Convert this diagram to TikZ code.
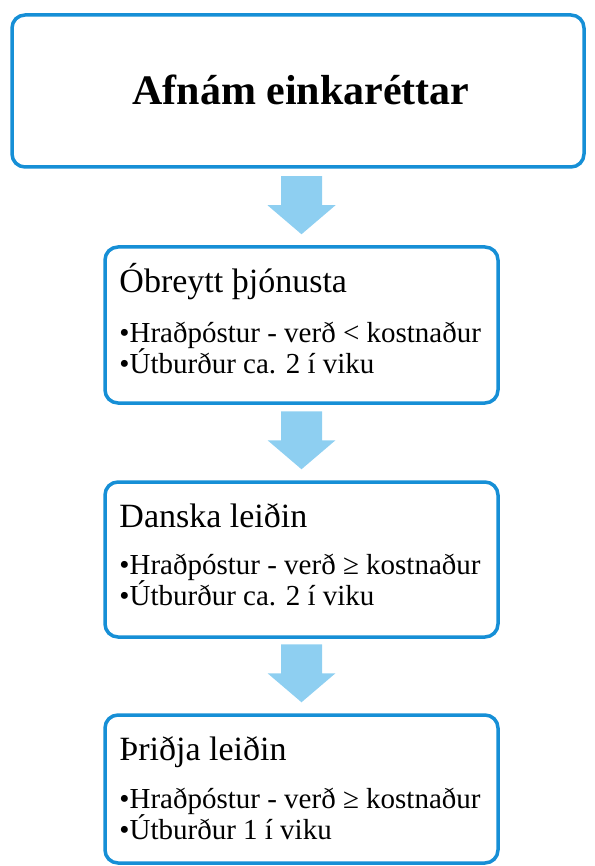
\documentclass[tikz,border=0pt]{standalone}
\usepackage{fontspec}
\setmainfont{Liberation Serif}
\usetikzlibrary{calc}
\definecolor{boxblue}{RGB}{22,143,214}
\definecolor{arrowblue}{RGB}{142,207,241}
\tikzset{
  x=1pt, y=-1pt,
  flowbox/.style={draw=boxblue, line width=3.5pt, rounded corners=13pt, fill=white, inner sep=0pt},
  boxtitle/.style={anchor=base west, inner sep=0pt, font=\fontsize{34}{37}\selectfont},
  boxitem/.style={anchor=base west, inner sep=0pt, font=\fontsize{29}{32}\selectfont},
  blockarrow/.style={fill=arrowblue, draw=none}
}
\newcommand{\blockdown}[1]{%
  \fill[blockarrow] ($(#1.north)+(-20.5,-69)$) -- ($(#1.north)+(20.5,-69)$) -- ($(#1.north)+(20.5,-40)$)
    -- ($(#1.north)+(34,-40)$) -- ($(#1.north)+(0,-11)$) -- ($(#1.north)+(-34,-40)$)
    -- ($(#1.north)+(-20.5,-40)$) -- cycle;}
\begin{document}
\begin{tikzpicture}
\useasboundingbox (0,0) rectangle (594,866);
% top box
\node[flowbox, minimum width=572pt, minimum height=152pt] (b1) at (298,91) {};
\node[anchor=base, inner sep=0pt, font=\bfseries\fontsize{42}{46}\selectfont] (t1) at (301,105) {Afnám einkaréttar};
% box 2
\node[flowbox, minimum width=393pt, minimum height=156pt] (b2) at (301.5,325) {};
\node[boxtitle] (t2) at ($(b2.north west)+(16,47)$) {Óbreytt þjónusta};
\node[boxitem] (t2a) at ($(b2.north west)+(16,97)$) {•Hraðpóstur - verð < kostnaður};
\node[boxitem] (t2b) at ($(b2.north west)+(16,128)$) {•Útburður ca. 2 í viku};
% box 3
\node[flowbox, minimum width=393pt, minimum height=155pt] (b3) at (301.5,559.5) {};
\node[boxtitle] (t3) at ($(b3.north west)+(16,47)$) {Danska leiðin};
\node[boxitem] (t3a) at ($(b3.north west)+(16,94)$) {•Hraðpóstur - verð ≥ kostnaður};
\node[boxitem] (t3b) at ($(b3.north west)+(16,125)$) {•Útburður ca. 2 í viku};
% box 4
\node[flowbox, minimum width=393pt, minimum height=148pt] (b4) at (301.5,789) {};
\node[boxtitle] (t4) at ($(b4.north west)+(16,47)$) {Þriðja leiðin};
\node[boxitem] (t4a) at ($(b4.north west)+(16,95)$) {•Hraðpóstur - verð ≥ kostnaður};
\node[boxitem] (t4b) at ($(b4.north west)+(16,126)$) {•Útburður 1 í viku};
% arrows
\blockdown{b2}
\blockdown{b3}
\blockdown{b4}
\end{tikzpicture}
\end{document}
